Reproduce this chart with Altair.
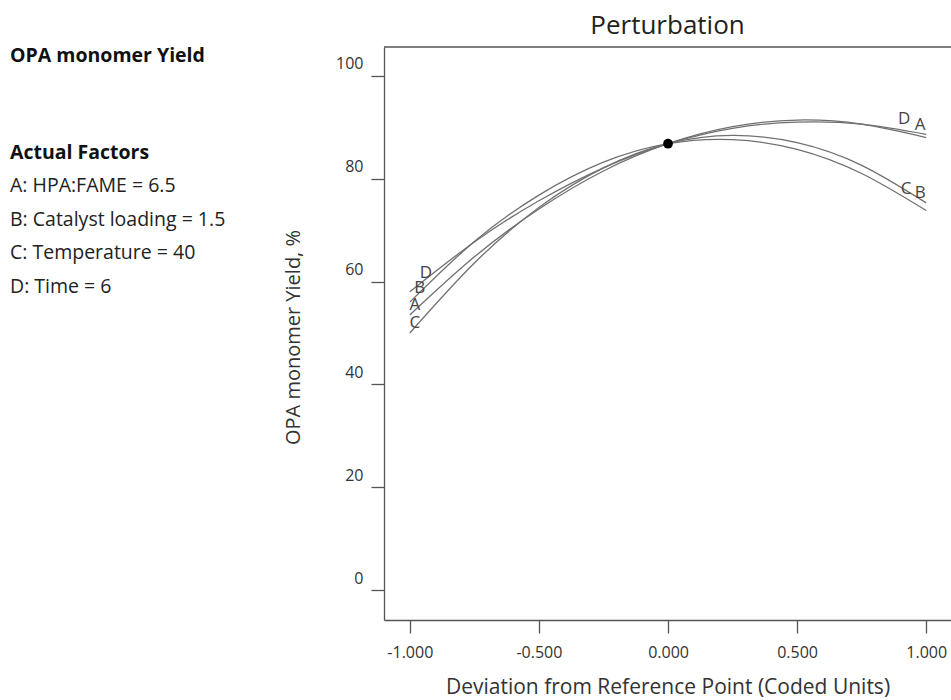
import altair as alt
import pandas as pd

# ---- data ----
x_coded = [-1.0, -0.75, -0.5, -0.25, 0.0, 0.25, 0.5, 0.75, 1.0]
yield_A = [53.5, 64.8, 74.1, 81.5, 86.8, 90.1, 91.4, 90.6, 88.0]
yield_B = [56.0, 67.8, 76.8, 83.2, 86.8, 87.6, 85.7, 81.0, 73.8]
yield_C = [50.0, 63.6, 74.4, 82.1, 86.8, 88.4, 87.0, 82.6, 75.3]
yield_D = [58.0, 67.7, 75.7, 82.1, 86.8, 89.8, 91.0, 90.6, 88.6]
factors = ["A", "B", "C", "D"]
ref_x = [0.0]
ref_y = [86.8]
x_ticks = [-1.0, -0.5, 0.0, 0.5, 1.0]
y_ticks = [0, 20, 40, 60, 80, 100]

panel_title = "OPA monomer Yield"
panel_head = "Actual Factors"
panel_lines = ["A: HPA:FAME = 6.5", "B: Catalyst loading = 1.5",
               "C: Temperature = 40", "D: Time = 6"]

series = {"A": yield_A, "B": yield_B, "C": yield_C, "D": yield_D}
rows = []
for f in factors:
    for xv, yv in zip(x_coded, series[f]):
        rows.append({"factor": f, "x": xv, "y": yv})
df = pd.DataFrame(rows)
ref = pd.DataFrame({"x": ref_x, "y": ref_y})

FONT = "Open Sans"
AX = "#555555"
xs = alt.Scale(domain=[-1.1, 1.096], nice=False, zero=False)
ys = alt.Scale(domain=[-5.8, 105.6], nice=False, zero=False)

xenc = alt.X("x:Q", scale=xs, axis=alt.Axis(
    values=x_ticks,
    labelExpr="datum.value < 0 ? '-' + format(-datum.value, '.3f') : format(datum.value, '.3f')",
    title="Deviation from Reference Point (Coded Units)",
    grid=False, tickSize=13, labelPadding=11, titlePadding=16,
    labelFont=FONT, titleFont=FONT, labelColor="#333333", titleColor="#333333",
    domainColor=AX, tickColor=AX, domainWidth=1.3, tickWidth=1.3,
    labelFontSize=16, titleFontSize=21, titleFontWeight="normal"))
yenc = alt.Y("y:Q", scale=ys, axis=alt.Axis(
    values=y_ticks, title="OPA monomer Yield, %", grid=False, tickSize=13,
    labelPadding=8, labelBaseline="bottom", labelOffset=-4,
    labelFont=FONT, titleFont=FONT, labelColor="#333333", titleColor="#333333",
    domainColor=AX, tickColor=AX, domainWidth=1.3, tickWidth=1.3,
    labelFontSize=16, titleFontSize=20, titleFontWeight="normal",
    titleAngle=-90, titleX=-91, titleY=290, titleAlign="center",
    titleBaseline="middle"))

lines = alt.Chart(df).mark_line(interpolate="natural", color="#707070",
                                strokeWidth=1.3).encode(
    x=xenc, y=yenc, detail="factor:N")

dot = alt.Chart(ref).mark_point(filled=True, color="black", size=95,
                                opacity=1).encode(x="x:Q", y="y:Q")

top_rule = alt.Chart(ref).mark_rule(color=AX, strokeWidth=1.3).encode(
    x=alt.value(0), x2=alt.value(567), y=alt.value(0))

# curve-end labels (offsets in px from the curve ends)
left_off = {"D": (16, -19), "B": (10, -14), "A": (5, -10), "C": (5, -10)}
right_off = {"D": (-22, -15), "A": (-6, -13), "C": (-20, -14), "B": (-6, -18)}
label_layers = []
for f in factors:
    for idx, offs in ((0, left_off), (-1, right_off)):
        d = pd.DataFrame({"x": [x_coded[idx]], "y": [series[f][idx]], "t": [f]})
        dx, dy = offs[f]
        label_layers.append(
            alt.Chart(d).mark_text(font=FONT, fontSize=17, color="#444444",
                                   dx=dx, dy=dy, align="center",
                                   baseline="middle").encode(
                x="x:Q", y="y:Q", text="t:N"))

# left info panel
panel = []
one = pd.DataFrame({"k": [0]})
panel.append(alt.Chart(one).mark_text(font=FONT, fontSize=19.5, fontWeight="bold",
                                      color="#111111", align="left",
                                      baseline="middle").encode(
    x=alt.value(-374), y=alt.value(9), text=alt.value(panel_title)))
panel.append(alt.Chart(one).mark_text(font=FONT, fontSize=19.5, fontWeight="bold",
                                      color="#111111", align="left",
                                      baseline="middle").encode(
    x=alt.value(-374), y=alt.value(106), text=alt.value(panel_head)))
for i, s in enumerate(panel_lines):
    panel.append(alt.Chart(one).mark_text(font=FONT, fontSize=19.5,
                                          color="#222222", align="left",
                                          baseline="middle").encode(
        x=alt.value(-374), y=alt.value(139 + i * 33.7), text=alt.value(s)))

chart = alt.layer(lines, top_rule, dot, *label_layers, *panel).properties(
    width=567, height=573,
    padding={"left": 384, "top": 47, "right": 0, "bottom": 80},
    autosize="none",
    background="white",
    title=alt.TitleParams("Perturbation", fontSize=26, font=FONT,
                          fontWeight="normal", color="#222222", offset=7,
                          anchor="middle"),
).configure_view(stroke=None)

chart.save("out.html", embed_options={"renderer": "svg", "actions": False})
